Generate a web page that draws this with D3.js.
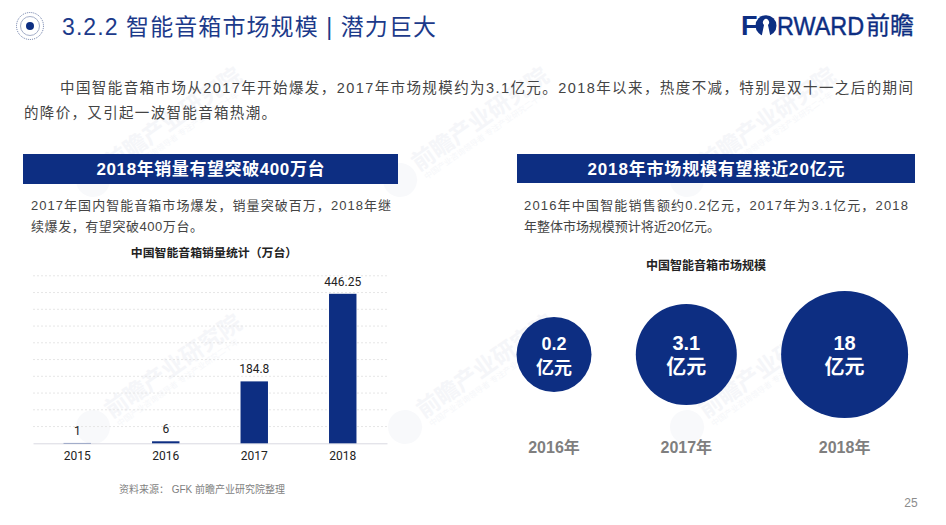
<!DOCTYPE html>
<html>
<head>
<meta charset="utf-8">
<script src="https://cdn.jsdelivr.net/npm/d3@7"></script>
<style>
html, body { margin: 0; padding: 0; background: #fff; }
svg { display: block; }
text { font-family: "Liberation Sans", "Noto Sans CJK SC", sans-serif; }
</style>
</head>
<body>
<script>
var navy = "#0d2e82";

// bar chart data
var salesYears = ["2015", "2016", "2017", "2018"];
var salesValues = [1, 6, 184.8, 446.25];
var salesLabels = ["1", "6", "184.8", "446.25"];
var salesTicks = [0, 50, 100, 150, 200, 250, 300, 350, 400, 450, 500];

// bubble data
var marketYears = ["2016", "2017", "2018"];
var marketValues = ["0.2", "3.1", "18"];

var title = "3.2.2 智能音箱市场规模 | 潜力巨大";
var introLines = [
  "中国智能音箱市场从2017年开始爆发，2017年市场规模约为3.1亿元。2018年以来，热度不减，特别是双十一之后的期间",
  "的降价，又引起一波智能音箱热潮。"
];
var leftHead = "2018年销量有望突破400万台";
var rightHead = "2018年市场规模有望接近20亿元";
var leftBody = ["2017年国内智能音箱市场爆发，销量突破百万，2018年继", "续爆发，有望突破400万台。"];
var rightBody = ["2016年中国智能销售额约0.2亿元，2017年为3.1亿元，2018", "年整体市场规模预计将近20亿元。"];

var svg = d3.select("body").append("svg")
  .attr("width", 946)
  .attr("height", 525);

// watermark, sits under everything
var marks = [[93, 427], [405, 427], [687, 427], [93, 180], [400, 180], [687, 180]];
var wm = svg.selectAll("g.wm").data(marks).enter().append("g")
  .attr("class", "wm")
  .attr("transform", function(d) { return "translate(" + d[0] + "," + d[1] + ") rotate(-35)"; });
wm.append("circle").attr("r", 17).attr("fill", "#f8f9fb");
wm.append("text")
  .attr("x", 20).attr("y", 4)
  .style("font-size", "23px").style("font-weight", "bold")
  .attr("fill", "#f5f6f9")
  .text("前瞻产业研究院");
wm.append("text")
  .attr("x", 22).attr("y", 15)
  .style("font-size", "8px")
  .attr("fill", "#f6f7fa")
  .text("中国产业咨询领导者 专注产业研究二十年");

// header icon
svg.append("circle").attr("cx", 30).attr("cy", 26).attr("r", 13.5)
  .attr("fill", "none").attr("stroke", "#44598f").attr("stroke-width", 0.8).attr("stroke-dasharray", "1 1");
svg.append("circle").attr("cx", 30).attr("cy", 26).attr("r", 9.5)
  .attr("fill", "none").attr("stroke", "#a5afc9").attr("stroke-width", 1);
svg.append("circle").attr("cx", 30).attr("cy", 26).attr("r", 4).attr("fill", navy);

svg.append("text")
  .attr("x", 62).attr("y", 35)
  .attr("fill", "#1c3a8a")
  .style("font-size", "23px")
  .attr("textLength", 374)
  .text(title);

// logo
var logo = svg.append("g").attr("fill", navy);
logo.append("text").attr("x", 741).attr("y", 35).style("font-size", "27px").style("font-weight", "bold").text("F");
logo.append("circle").attr("cx", 766).attr("cy", 25.7).attr("r", 10.5);
logo.append("path").attr("d", "M761.5 37 L764 25 A3 3.4 0 1 1 768 25 L770.5 37 Z").attr("fill", "#fff");
logo.append("text")
  .attr("transform", "translate(777,35) scale(1,1.14)")
  .attr("stroke", navy).attr("stroke-width", 0.4)
  .style("font-size", "23.4px")
  .text("RWARD");
logo.append("text").attr("x", 866).attr("y", 34).style("font-size", "24px")
  .attr("stroke", navy).attr("stroke-width", 0.3)
  .attr("textLength", 48).text("前瞻");

// intro paragraph
svg.append("text").attr("x", 60).attr("y", 93).attr("fill", "#444")
  .style("font-size", "14.5px").attr("textLength", 853).text(introLines[0]);
svg.append("text").attr("x", 24).attr("y", 118).attr("fill", "#444")
  .style("font-size", "14.5px").attr("textLength", 252).text(introLines[1]);

// section heads
function sectionHead(x, w, y, h, label, len) {
  svg.append("rect").attr("x", x).attr("y", y).attr("width", w).attr("height", h).attr("fill", navy);
  svg.append("text")
    .attr("x", x + w / 2).attr("y", y + h / 2 + 6)
    .attr("text-anchor", "middle")
    .attr("fill", "#fff")
    .style("font-size", "17px").style("font-weight", "bold")
    .attr("textLength", len)
    .text(label);
}
sectionHead(23, 375, 154, 30, leftHead, 228);
sectionHead(517, 398, 154, 29, rightHead, 257);

function bodyText(x, y, lines, lens) {
  lines.forEach(function(l, i) {
    svg.append("text").attr("x", x).attr("y", y + i * 21).attr("fill", "#444")
      .style("font-size", "13px").attr("textLength", lens[i]).text(l);
  });
}
bodyText(31, 210, leftBody, [360, 172]);
bodyText(524, 210, rightBody, [384, 196]);

// bar chart
var x = d3.scaleBand().domain(salesYears).range([33, 387]).paddingInner(0.69).paddingOuter(0.345);
var y = d3.scaleLinear().domain([0, 500]).range([443.3, 275.8]);

svg.selectAll("line.grid").data(salesTicks.slice(1)).enter().append("line")
  .attr("class", "grid")
  .attr("x1", 33).attr("x2", 387)
  .attr("y1", y).attr("y2", y)
  .attr("stroke", "#e6e6e6").attr("stroke-dasharray", "2 2");

var xAxis = svg.append("g")
  .attr("transform", "translate(0," + y(0) + ")")
  .call(d3.axisBottom(x).tickSize(0).tickPadding(8));
xAxis.select(".domain").attr("stroke", "#d9d9e2");
xAxis.selectAll("text")
  .style("font-size", "12px")
  .style("font-family", 'Roboto, sans-serif')
  .attr("fill", "#222");

svg.selectAll("rect.bar").data(salesValues).enter().append("rect")
  .attr("class", "bar")
  .attr("x", function(d, i) { return x(salesYears[i]); })
  .attr("y", function(d) { return y(d); })
  .attr("width", x.bandwidth())
  .attr("height", function(d) { return y(0) - y(d); })
  .attr("fill", navy);

svg.selectAll("text.val").data(salesValues).enter().append("text")
  .attr("class", "val")
  .attr("x", function(d, i) { return x(salesYears[i]) + x.bandwidth() / 2; })
  .attr("y", function(d) { return y(d) - 8; })
  .attr("text-anchor", "middle")
  .attr("fill", "#222")
  .style("font-size", "12px")
  .style("font-family", 'Roboto, sans-serif')
  .text(function(d, i) { return salesLabels[i]; });

svg.append("text").attr("x", 214).attr("y", 257).attr("text-anchor", "middle")
  .attr("fill", "#222").style("font-size", "11.9px").style("font-weight", "bold")
  .text("中国智能音箱销量统计（万台）");

svg.append("text").attr("x", 202).attr("y", 493).attr("text-anchor", "middle")
  .attr("fill", "#7f7f7f").style("font-size", "10px")
  .text("资料来源： GFK 前瞻产业研究院整理");

// bubbles, radius goes by rank in the original, not by area
var r = d3.scalePoint().domain(marketYears).range([37.5, 63.5]);
var gap = 44.3;
var cx = {};
var edge = 516.5;
marketYears.forEach(function(yr) {
  cx[yr] = edge + r(yr);
  edge += r(yr) * 2 + gap;
});
var bubbleFont = d3.scaleOrdinal().domain(marketYears).range([18, 20, 20]);

var bubble = svg.selectAll("g.bubble").data(marketYears).enter().append("g")
  .attr("class", "bubble")
  .attr("transform", function(d) { return "translate(" + cx[d] + ",354.5)"; });
bubble.append("circle").attr("r", function(d) { return r(d); }).attr("fill", navy);
bubble.append("text")
  .attr("text-anchor", "middle").attr("y", -5)
  .attr("fill", "#fff").style("font-weight", "bold")
  .style("font-size", function(d) { return bubbleFont(d) + "px"; })
  .text(function(d, i) { return marketValues[i]; });
bubble.append("text")
  .attr("text-anchor", "middle").attr("y", 19)
  .attr("fill", "#fff").style("font-weight", "bold")
  .style("font-size", function(d) { return bubbleFont(d) + "px"; })
  .text("亿元");

svg.selectAll("text.yr").data(marketYears).enter().append("text")
  .attr("class", "yr")
  .attr("x", function(d) { return cx[d]; })
  .attr("y", 453)
  .attr("text-anchor", "middle")
  .attr("fill", "#7f7f7f")
  .style("font-size", "16px").style("font-weight", "bold")
  .text(function(d) { return d + "年"; });

svg.append("text").attr("x", 706).attr("y", 270).attr("text-anchor", "middle")
  .attr("fill", "#222").style("font-size", "12px").style("font-weight", "bold")
  .text("中国智能音箱市场规模");

svg.append("text").attr("x", 911).attr("y", 507).attr("text-anchor", "middle")
  .attr("fill", "#8c8c8c").style("font-size", "12px")
  .text("25");
</script>
</body>
</html>
